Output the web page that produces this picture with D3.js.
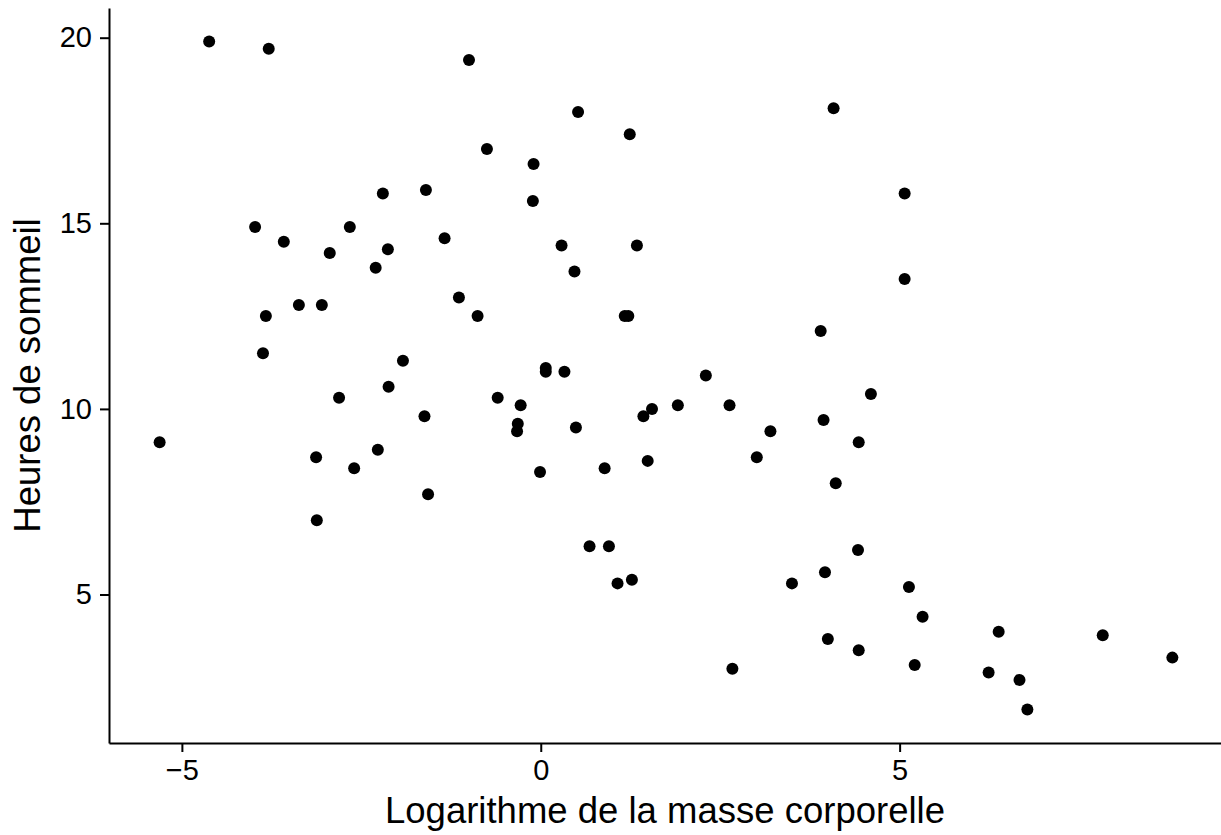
<!DOCTYPE html>
<html>
<head>
<meta charset="utf-8">
<script src="https://cdn.jsdelivr.net/npm/d3@7"></script>
<style>
  body { margin: 0; background: #fff; }
  svg { display: block; font-family: "Liberation Sans", Arial, sans-serif; }
</style>
</head>
<body>
<div id="scatter"></div>
<script>
// log(body mass) and total sleep hours
var logMass = [-5.31, -4.62, -3.79, -1.00, 0.52, 4.08, -0.75, 1.24, -0.10, -0.11,
  -3.98, -2.20, -1.60, -2.66, -3.58, -2.13, -1.34, -2.94, -2.30, 0.29,
  1.34, 0.47, 5.07, 5.07, -3.37, -3.05, -3.83, -1.14, -0.88, 1.17,
  1.22, 3.90, -3.87, -1.92, 0.07, 0.07, 0.33, 2.30, -2.12, -2.81,
  -0.60, -0.28, 1.55, 1.91, 2.63, 4.60, -1.62, -0.32, -0.33, 1.43,
  0.49, 3.94, 3.20, 4.43, -3.13, -2.27, -2.60, -0.01, 0.89, 1.49,
  3.01, 4.11, -1.57, -3.12, 0.68, 0.95, 4.42, 1.07, 1.27, 3.50,
  3.96, 5.13, 5.32, 6.38, 7.83, 4.00, 4.43, 2.67, 5.21, 6.24,
  6.67, 8.80, 6.78];
var sleepHours = [9.1, 19.9, 19.7, 19.4, 18.0, 18.1, 17.0, 17.4, 16.6, 15.6,
  14.9, 15.8, 15.9, 14.9, 14.5, 14.3, 14.6, 14.2, 13.8, 14.4,
  14.4, 13.7, 15.8, 13.5, 12.8, 12.8, 12.5, 13.0, 12.5, 12.5,
  12.5, 12.1, 11.5, 11.3, 11.1, 11.0, 11.0, 10.9, 10.6, 10.3,
  10.3, 10.1, 10.0, 10.1, 10.1, 10.4, 9.8, 9.6, 9.4, 9.8,
  9.5, 9.7, 9.4, 9.1, 8.7, 8.9, 8.4, 8.3, 8.4, 8.6,
  8.7, 8.0, 7.7, 7.0, 6.3, 6.3, 6.2, 5.3, 5.4, 5.3,
  5.6, 5.2, 4.4, 4.0, 3.9, 3.8, 3.5, 3.0, 3.1, 2.9,
  2.7, 3.3, 1.9];
var xTicks = [-5, 0, 5];
var yTicks = [5, 10, 15, 20];

var data = logMass.map(function(d, i) { return { x: d, y: sleepHours[i] }; });

var svgWidth = 1221;
var svgHeight = 835;
var margin = { top: 8, right: -2, bottom: 92, left: 109 };
var width = svgWidth - margin.left - margin.right;
var height = svgHeight - margin.top - margin.bottom;

var svg = d3.select("#scatter")
  .append("svg")
  .attr("width", svgWidth)
  .attr("height", svgHeight);

var chartGroup = svg.append("g")
  .attr("transform", `translate(${margin.left}, ${margin.top})`);

// ggplot-style 5% expansion
var xExt = d3.extent(logMass), yExt = d3.extent(sleepHours);
var xPad = (xExt[1] - xExt[0]) * 0.05, yPad = (yExt[1] - yExt[0]) * 0.05;

var xScale = d3.scaleLinear()
  .domain([xExt[0] - xPad, xExt[1] + xPad])
  .range([0, width]);
var yScale = d3.scaleLinear()
  .domain([yExt[0] - yPad, yExt[1] + yPad])
  .range([height, 0]);

var fmt = function(d) { return d < 0 ? "\u2212" + Math.abs(d) : String(d); };

var bottomAxis = d3.axisBottom(xScale).tickValues(xTicks).tickFormat(fmt)
  .tickSizeInner(9).tickSizeOuter(0).tickPadding(7);
var leftAxis = d3.axisLeft(yScale).tickValues(yTicks).tickFormat(fmt)
  .tickSizeInner(9).tickSizeOuter(0).tickPadding(8);

var gx = chartGroup.append("g")
  .attr("transform", `translate(0, ${height})`)
  .call(bottomAxis);
var gy = chartGroup.append("g")
  .call(leftAxis);

[gx, gy].forEach(function(g) {
  g.select(".domain").attr("stroke", "#000").attr("stroke-width", 2);
  g.selectAll(".tick line").attr("stroke", "#000").attr("stroke-width", 2);
  g.selectAll(".tick text")
    .attr("fill", "#000")
    .style("font-size", "29px")
    .style("font-family", "'Liberation Sans', Arial, sans-serif");
});

chartGroup.selectAll("circle")
  .data(data)
  .enter()
  .append("circle")
  .attr("cx", d => xScale(d.x))
  .attr("cy", d => yScale(d.y))
  .attr("r", 6)
  .attr("fill", "#000");

chartGroup.append("text")
  .attr("x", 665 - margin.left)
  .attr("y", 823 - margin.top)
  .attr("text-anchor", "middle")
  .style("font-size", "36.5px")
  .text("Logarithme de la masse corporelle");

chartGroup.append("text")
  .attr("transform", `translate(${40 - margin.left}, ${yScale(10.9)}) rotate(-90)`)
  .attr("text-anchor", "middle")
  .style("font-size", "36.5px")
  .text("Heures de sommeil");
</script>
</body>
</html>
